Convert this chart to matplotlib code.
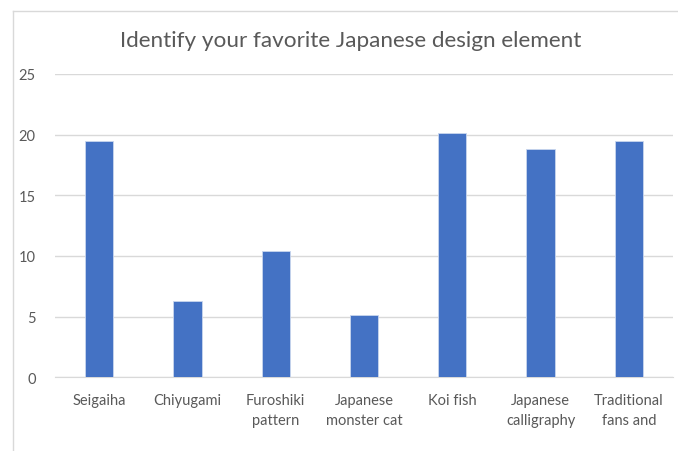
import matplotlib.pyplot as plt
from matplotlib.lines import Line2D

categories = ['Seigaiha', 'Chiyugami', 'Furoshiki\npattern', 'Japanese\nmonster cat',
              'Koi fish', 'Japanese\ncalligraphy', 'Traditional\nfans and']
values = [19.5, 6.3, 10.4, 5.1, 20.1, 18.8, 19.5]
yticks = [0, 5, 10, 15, 20, 25]

W, H = 678, 452
fig = plt.figure(figsize=(W / 100, H / 100), dpi=100)
plt.rcParams['font.family'] = ['Lato', 'DejaVu Sans']

# chart area border (cropped on right/bottom)
fig.add_artist(Line2D([13 / W, 13 / W], [0, 1 - 12 / H], transform=fig.transFigure,
                      color='#d9d9d9', lw=1))
fig.add_artist(Line2D([13 / W, 1], [1 - 12 / H, 1 - 12 / H], transform=fig.transFigure,
                      color='#d9d9d9', lw=1))

ax = fig.add_axes([55 / W, 1 - 378.3 / H, 618 / W, 303.3 / H])
x = range(len(categories))
ax.bar(x, values, width=0.32, color='#4472C4', edgecolor='#c9d6ee', linewidth=0.6, zorder=3)

ax.set_xlim(-0.5, len(categories) - 0.5)
ax.set_ylim(0, 25)
ax.set_yticks(yticks)
ax.set_yticklabels([str(t) for t in yticks])
ax.set_xticks(list(x))
ax.set_xticklabels(categories, linespacing=1.55)
ax.tick_params(axis='both', length=0, colors='#595959', labelsize=10.5)
ax.tick_params(axis='x', pad=11)
ax.tick_params(axis='y', pad=14)
ax.grid(axis='y', color='#d9d9d9', lw=1, zorder=0)
for side in ['top', 'right', 'left']:
    ax.spines[side].set_visible(False)
ax.spines['bottom'].set_color('#d9d9d9')

fig.text(351 / W, 1 - 41 / H, 'Identify your favorite Japanese design element',
         ha='center', va='center', fontsize=16.2, color='#595959')

fig.savefig('out.png', dpi=100, facecolor='white')
